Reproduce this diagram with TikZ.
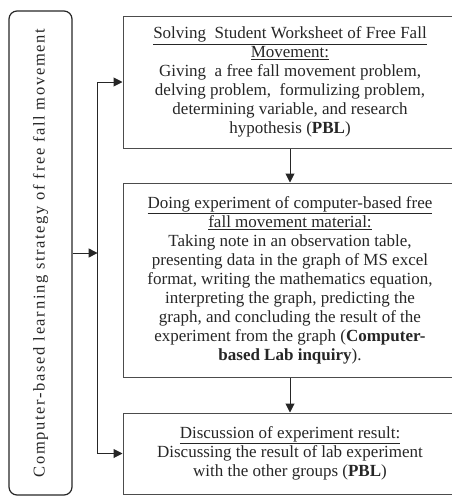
\documentclass[tikz,border=0pt]{standalone}
\usepackage{fontspec}
\setmainfont{Liberation Serif}
\newfontfamily\boxfont{Liberation Serif}
\usetikzlibrary{arrows.meta}
\begin{document}
\begin{tikzpicture}[x=1pt,y=-1pt,
  boxstyle/.style={draw=black!70,line width=1pt,minimum width=334pt,inner sep=0pt,align=center,
    font=\boxfont\fontsize{17}{19}\selectfont,text=black!85},
  arr/.style={-{Triangle[length=9pt,width=9pt]},line width=1pt,draw=black!85},
  plain/.style={line width=1pt,draw=black!85}]
\useasboundingbox (0,0) rectangle (452,496);
\begin{scope}
\clip (0,0) rectangle (452,496);
\node[boxstyle,minimum height=132pt] (box1) at (290,82)
 {\underline{Solving\ \ Student Worksheet of Free Fall}\\
  \underline{Movement:}\\
  Giving\ \ a free fall movement problem,\\
  delving problem,\ \ formulizing problem,\\
  determining variable, and research\\
  hypothesis (\textbf{PBL})};
\node[boxstyle,minimum height=194pt] (box2) at (290,280)
 {\underline{Doing experiment of computer-based free}\\
  \underline{fall movement material:}\\
  Taking note in an observation table,\\
  presenting data in the graph of MS excel\\
  format, writing the mathematics equation,\\
  interpreting the graph, predicting the\\
  graph, and concluding the result of the\\
  experiment from the graph (\textbf{Computer-}\\
  \textbf{based Lab inquiry}).};
\node[boxstyle,minimum height=81pt] (box3) at (290,453.5)
 {\underline{Discussion of experiment result:}\\
  Discussing the result of lab experiment\\
  with the other groups (\textbf{PBL})};
\end{scope}
\node[draw=black!85,line width=1.2pt,rounded corners=8pt,minimum width=63pt,minimum height=484pt,inner sep=0pt] (left) at (40.5,253) {};
\node[rotate=90,inner sep=0pt,text=black!85,font=\boxfont\fontsize{16.5}{19}\selectfont\addfontfeatures{LetterSpace=10}] (lefttext) at (left.center)
 {Computer-based learning strategy of free fall movement};
\draw[arr] (left.east) -- ++(25,0) coordinate (tm);
\draw[plain] (box1.west -| tm) -- (box3.west -| tm);
\draw[arr] (box1.west -| tm) -- (box1.west);
\draw[arr] (box3.west -| tm) -- (box3.west);
\draw[arr] (box1) -- (box2);
\draw[arr] (box2) -- (box3);
\end{tikzpicture}
\end{document}
